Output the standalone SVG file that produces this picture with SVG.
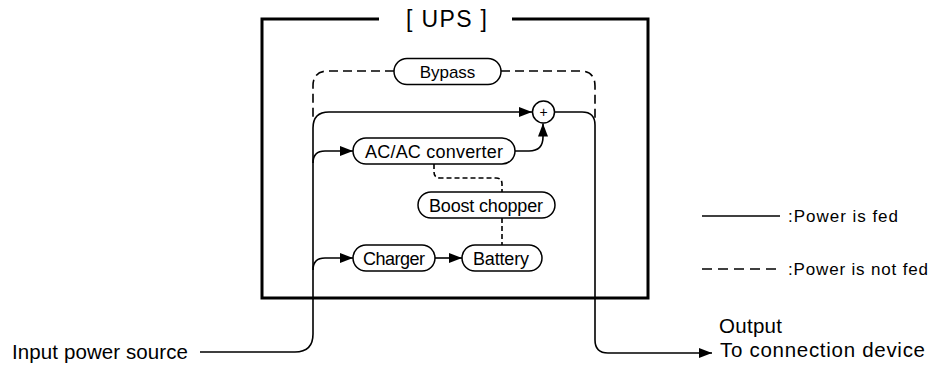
<svg xmlns="http://www.w3.org/2000/svg" width="933" height="365" viewBox="0 0 933 365">
<style>
  text { font-family: "Liberation Sans", Arial, sans-serif; fill: #000; }
  .pill { fill: #fff; stroke: #000; stroke-width: 1.5; }
  .pt { font-size: 18px; text-anchor: middle; }
  .line { fill: none; stroke: #000; stroke-width: 1.6; }
  .dash { fill: none; stroke: #000; stroke-width: 1.6; stroke-dasharray: 9 5; }
  .lbl { font-size: 20.5px; }
  .leg { font-size: 17px; }
</style>
<defs>
  <marker id="arr" viewBox="0 0 13 10" refX="13" refY="5" markerWidth="13" markerHeight="10" markerUnits="userSpaceOnUse" orient="auto">
    <path d="M0,0 L13,5 L0,10 Z" fill="#000"/>
  </marker>
</defs>

<g id="ups-frame">
  <path d="M379,19 H262 V298 H648 V19 H512" fill="none" stroke="#000" stroke-width="3"/>
  <text x="446.5" y="27" font-size="23" text-anchor="middle" textLength="81">[ UPS ]</text>
</g>

<g id="connectors">
  <path class="line" d="M200,352 H295 Q313,352 313,334 V128 Q313,112 329,112 H532" marker-end="url(#arr)"/>
  <path class="line" d="M313,163 Q313,151 325,151 H353" marker-end="url(#arr)"/>
  <path class="line" d="M313,270 Q313,258 325,258 H353" marker-end="url(#arr)"/>
  <path class="line" d="M435,258 H462" marker-end="url(#arr)"/>
  <path class="line" d="M515,151 H529 Q543,151 543,137 V123.5" marker-end="url(#arr)"/>
  <path class="line" d="M555,112 H582 Q595,112 595,125 V340 Q595,353 608,353 H712" marker-end="url(#arr)"/>
  <path class="dash" d="M394,71 H328 Q313,71 313,86 V118"/>
  <path class="dash" d="M501,71 H580 Q595,71 595,86 V122"/>
  <path class="line" style="stroke-dasharray:5 3" d="M434,164 V172 Q434,178 440,178 H496 Q502,178 502,184 V192"/>
  <path class="line" style="stroke-dasharray:5 3" d="M502,218 V245"/>
</g>

<g id="bypass">
  <rect class="pill" x="394" y="58.5" width="107" height="26" rx="13"/>
  <text x="447.5" y="77.5" font-size="17" text-anchor="middle">Bypass</text>
</g>

<g id="sum">
  <circle cx="543.5" cy="112" r="11" fill="#fff" stroke="#000" stroke-width="1.5"/>
  <text x="543.5" y="117" font-size="14" text-anchor="middle">+</text>
</g>

<g id="acac">
  <rect class="pill" x="353" y="138" width="162" height="26" rx="13"/>
  <text class="pt" x="434" y="157.5" textLength="138">AC/AC converter</text>
</g>

<g id="boost">
  <rect class="pill" x="418" y="192" width="137" height="26" rx="13"/>
  <text class="pt" x="486" y="211.5" textLength="114">Boost chopper</text>
</g>

<g id="charger">
  <rect class="pill" x="353" y="245" width="82" height="26" rx="13"/>
  <text class="pt" x="394" y="264.5" textLength="62">Charger</text>
</g>

<g id="battery">
  <rect class="pill" x="462" y="245" width="80" height="26" rx="13"/>
  <text class="pt" x="501" y="264.5" textLength="56">Battery</text>
</g>

<g id="input">
  <text class="lbl" x="12" y="359" textLength="176">Input power source</text>
</g>

<g id="output">
  <text class="lbl" x="719" y="333" textLength="63">Output</text>
  <text class="lbl" x="720" y="357" textLength="205">To connection device</text>
</g>

<g id="legend">
  <path class="line" d="M702,216 H780"/>
  <text class="leg" x="788" y="222" textLength="110">:Power is fed</text>
  <path class="line" style="stroke-dasharray:10 6" d="M702,269 H780"/>
  <text class="leg" x="788" y="275" textLength="140">:Power is not fed</text>
</g>
</svg>
